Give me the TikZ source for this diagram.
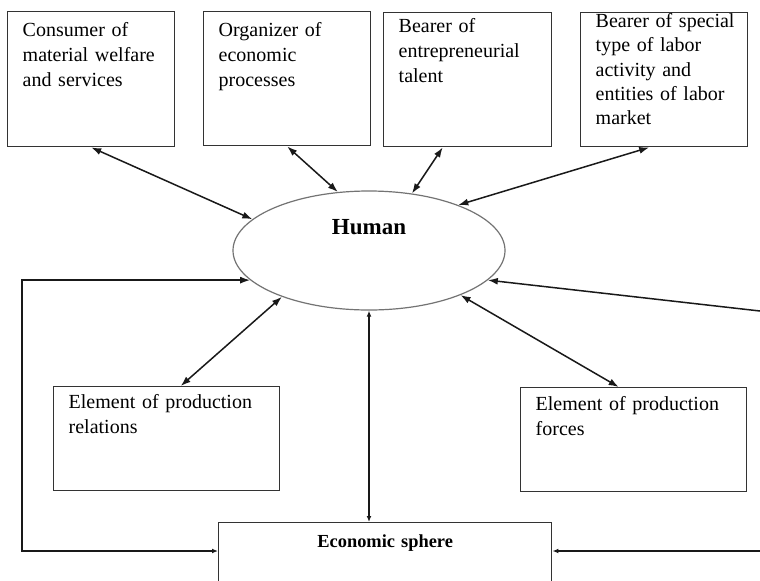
\documentclass[tikz,border=0pt]{standalone}
\usepackage{fontspec}
\setmainfont{Liberation Serif}
\usetikzlibrary{shapes.geometric,arrows.meta}

\tikzset{
  box/.style={draw=black!80, line width=0.7pt, anchor=north west, align=left,
    inner xsep=7.5pt, inner ysep=0pt, font=\fontsize{10}{12.5}\selectfont},
  link/.style={<->, line width=0.75pt, draw=black!90},
  smalltip/.style={>={Latex[length=3pt,width=2.4pt]}},
}

\begin{document}
\begin{tikzpicture}[x=0.5pt,y=-0.5pt,>={Latex[length=5pt,width=3.5pt]}]
  \path[fill=white,use as bounding box] (0,0) rectangle (760,580);
  \clip (0,0) rectangle (760,580);

  \node[box, text width=68.5pt, text height=12.5pt, text depth=55pt] (consumer) at (7,11)
    {Consumer of\\material welfare\\and services};
  \node[box, text width=68.5pt, text height=12.5pt, text depth=54.5pt] (organizer) at (203,11)
    {Organizer of\\economic\\processes};
  \node[box, text width=69pt, text height=10pt, text depth=57pt] (talent) at (383,12)
    {Bearer of\\entrepreneurial\\talent};
  \node[box, font=\fontsize{10}{12.1}\selectfont, text width=68.5pt, text height=7.5pt,
    text depth=59.5pt] (labor) at (580,12)
    {\mbox{Bearer of special}\\type of labor\\activity and\\\mbox{entities of labor}\\market};

  \node[ellipse, draw=black!55, line width=0.6pt, minimum width=136pt, minimum height=59.5pt,
    inner sep=0pt] (human) at (369,250.5) {};
  \node[font=\fontsize{11.5}{14}\selectfont\bfseries] (humanlbl) at (369,227) {Human};

  \node[box, text width=98pt, text height=11pt, text depth=41pt] (relations) at (53,386)
    {Element of production\\relations};
  \node[box, text width=98pt, text height=11.5pt, text depth=40.5pt] (forces) at (520,387)
    {Element of production\\forces};

  \node[box, align=center, text width=151.5pt, text height=12.5pt, text depth=30pt,
    font=\fontsize{9.2}{11}\selectfont\bfseries] (econ) at (218,522) {Economic sphere};

  \coordinate (rtop) at (760,311);
  \coordinate (rbot) at (760,551);
  \coordinate (lbot) at (22,551);
  \coordinate (ltop) at (lbot |- human.194);

  \draw[link] (consumer.south) -- (human.165);
  \draw[link] (organizer.south) -- (human.118);
  \draw[link] ([xshift=-12.5pt]talent.south) -- (human.53);
  \draw[link] ([xshift=-7.5pt]labor.south) -- (human.27);

  \draw[link] (human.208) -- ([xshift=7pt]relations.north);
  \draw[link] (human.334) -- ([xshift=-7.5pt]forces.north);
  \draw[link,->] (rtop) -- (human.346);

  \draw[link,smalltip] (human.south) -- (human.south |- econ.north);
  \draw[link,smalltip,->] (rbot) -- (rbot -| econ.east);
  \draw[link,{Latex[length=3pt,width=2.4pt]}-{Latex[length=5pt,width=3.5pt]}]
    (lbot -| econ.west) -- (lbot) -- (ltop) -- (human.194);
\end{tikzpicture}
\end{document}
